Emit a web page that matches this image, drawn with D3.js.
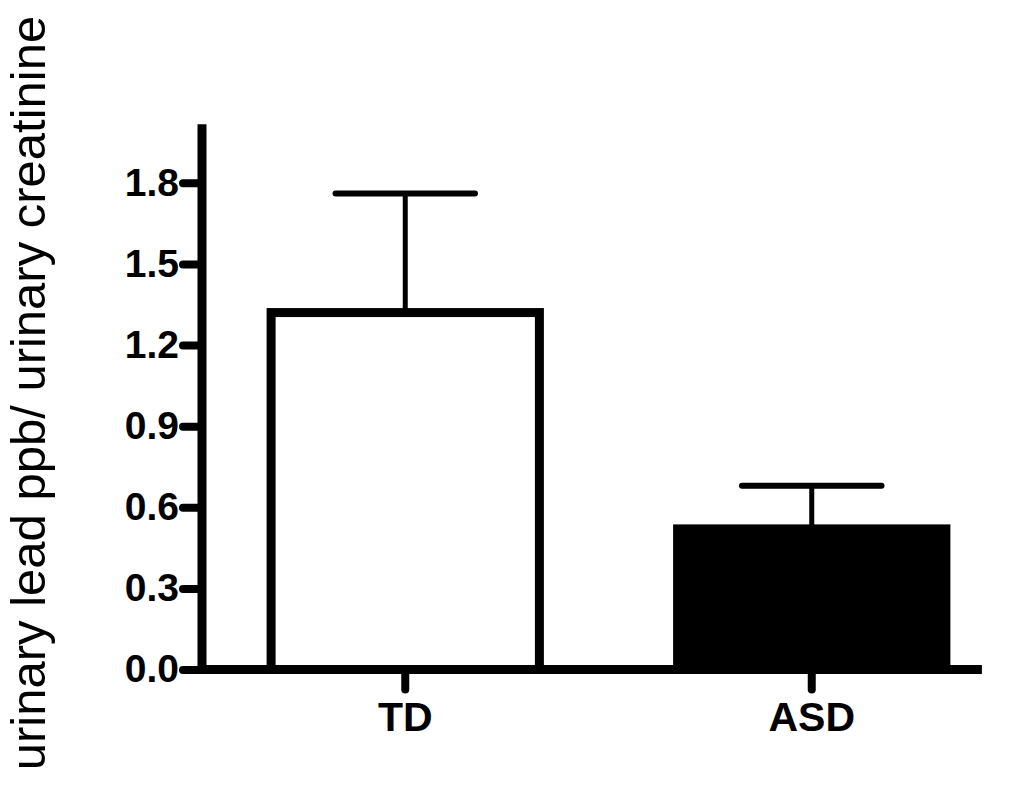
<!DOCTYPE html>
<html lang="en">
<head>
  <meta charset="UTF-8">
  <title>Urinary lead: TD vs ASD</title>
  <script src="https://cdn.jsdelivr.net/npm/d3@7"></script>
  <style>
    body { margin: 0; background: #fff; }
    svg { display: block; font-family: "Liberation Sans", Arial, sans-serif; }
    .tick text { font-weight: bold; fill: #000; }
  </style>
</head>
<body>
  <svg id="chart" width="1024" height="790"></svg>

  <script>
    // values
    const groups   = ["TD", "ASD"];
    const means    = [1.32, 0.52];
    const errors   = [0.44, 0.16];
    const fills    = ["#fff", "#000"];
    const yTicks   = [0, 0.3, 0.6, 0.9, 1.2, 1.5, 1.8];
    const yLabel   = "urinary lead ppb/ urinary creatinine";

    const svg = d3.select("#chart");

    const y = d3.scaleLinear().domain([0, 2]).range([669.5, 128.7]);
    const x = d3.scaleBand().domain(groups)
      .range([202, 1015]).paddingInner(0.34).paddingOuter(0.17);

    const rows = groups.map((g, i) => ({ g, mean: means[i], err: errors[i], fill: fills[i] }));

    // bars
    svg.append("g").selectAll("rect")
      .data(rows)
      .join("rect")
        .attr("x", d => x(d.g))
        .attr("y", d => y(d.mean))
        .attr("width", x.bandwidth())
        .attr("height", d => y(0) - y(d.mean))
        .attr("fill", d => d.fill)
        .attr("stroke", "#000")
        .attr("stroke-width", 9);

    // error bars (upper only)
    const capHalf = x.bandwidth() * 0.26;
    const eb = svg.append("g").attr("stroke", "#000");
    eb.selectAll(".stem")
      .data(rows)
      .join("line")
        .attr("class", "stem")
        .attr("x1", d => x(d.g) + x.bandwidth() / 2)
        .attr("x2", d => x(d.g) + x.bandwidth() / 2)
        .attr("y1", d => y(d.mean))
        .attr("y2", d => y(d.mean + d.err))
        .attr("stroke-width", 5);
    eb.selectAll(".cap")
      .data(rows)
      .join("line")
        .attr("class", "cap")
        .attr("x1", d => x(d.g) + x.bandwidth() / 2 - capHalf)
        .attr("x2", d => x(d.g) + x.bandwidth() / 2 + capHalf)
        .attr("y1", d => y(d.mean + d.err))
        .attr("y2", d => y(d.mean + d.err))
        .attr("stroke-width", 6)
        .attr("stroke-linecap", "round");

    // y axis
    const yAxis = svg.append("g")
      .attr("transform", "translate(202,0)")
      .call(d3.axisLeft(y).tickValues(yTicks).tickFormat(d3.format(".1f"))
        .tickSize(19).tickPadding(4))
      .attr("font-size", 39)
      .attr("font-family", null);
    yAxis.select(".domain").remove();
    yAxis.selectAll(".tick line").attr("stroke-width", 8).attr("stroke-linecap", "round");
    yAxis.append("line")
      .attr("y1", y(0)).attr("y2", y(2))
      .attr("stroke", "#000").attr("stroke-width", 9).attr("stroke-linecap", "square");

    // x axis
    const xAxis = svg.append("g")
      .attr("transform", `translate(0,${y(0)})`)
      .call(d3.axisBottom(x).tickSize(20).tickPadding(12))
      .attr("font-size", 41)
      .attr("font-family", null);
    xAxis.select(".domain").remove();
    xAxis.selectAll(".tick line").attr("stroke-width", 8).attr("stroke-linecap", "round");
    xAxis.append("line")
      .attr("x1", 198).attr("x2", x("ASD") + x.bandwidth() + 36)
      .attr("stroke", "#000").attr("stroke-width", 9);

    // y axis title
    svg.append("text")
      .attr("transform", "translate(45,393) rotate(-90)")
      .attr("text-anchor", "middle")
      .attr("font-size", 49)
      .attr("fill", "#000")
      .text(yLabel);
  </script>
</body>
</html>
